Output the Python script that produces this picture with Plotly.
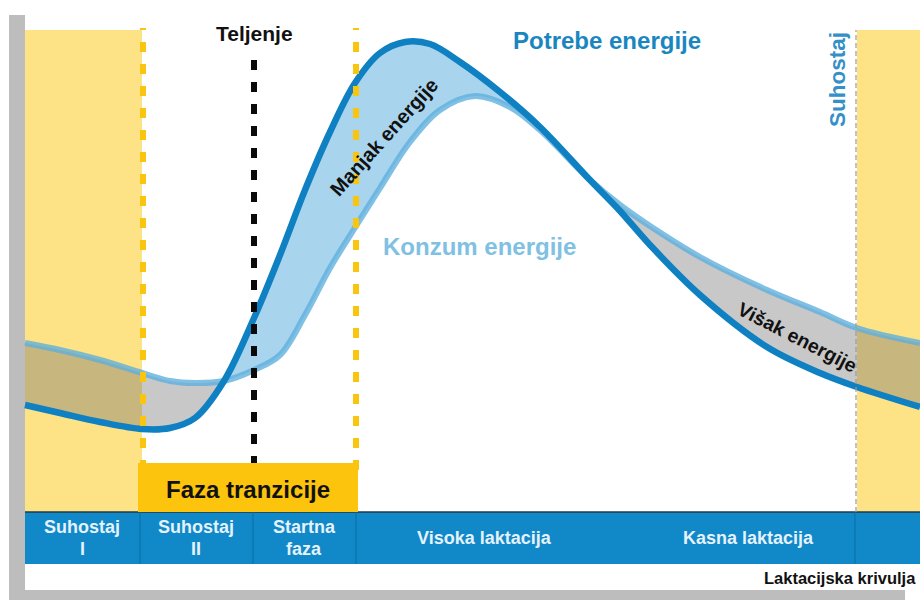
import plotly.graph_objects as go

# ---- data -----------------------------------------------------------------
# time axis (arbitrary units across the lactation cycle) and energy levels
time_demand = [25, 60, 100, 142, 170, 195, 224, 254, 280, 305, 330, 355, 380,
               405, 430, 460, 500, 540, 590, 620, 650, 700, 767, 820, 857, 920]
energy_demand = [195, 187, 178, 171, 172, 182, 219, 282, 345, 410, 468, 517, 547,
                 558, 556, 538, 508, 473, 420, 389, 355, 305, 253, 227, 213, 193]

time_intake = [25, 60, 100, 142, 170, 195, 224, 254, 280, 305, 330, 356, 380,
               410, 440, 475, 510, 540, 590, 620, 650, 700, 767, 820, 857, 920]
energy_intake = [257, 250, 240, 227, 219, 217, 219, 230, 245, 285, 332, 374, 412,
                 458, 490, 504, 493, 470, 420, 395, 374, 343, 310, 288, 272, 257]

# points where demand and intake curves meet
crossings = [224, 590]

# lactation phases shown in the bottom band
phase_edges = [25, 140, 253, 356, 855, 920]
phase_labels = [["Suhostaj", "I"], ["Suhostaj", "II"], ["Startna", "faza"],
                ["Visoka laktacija"], ["Kasna laktacija"]]
phase_label_x = [82, 196, 304, 484, 748]

dry_periods = [(25, 142), (857, 920)]
transition = (143, 356)
calving = 254

# ---- styling --------------------------------------------------------------
DARK = "#0f80c1"
LIGHT = "rgba(92,174,221,0.78)"
BAND_BLUE = "#a8d4ee"
BAND_GREY = "rgba(110,110,110,0.38)"
YELLOW = "#fde386"
GOLD = "#fcc40c"
BAR = "#1188c8"
FONT = "Liberation Sans, Arial, sans-serif"
H = 600

fig = go.Figure()


def seg(xs, ys, lo, hi):
    pts = [(x, y) for x, y in zip(xs, ys) if lo <= x <= hi]
    return [p[0] for p in pts], [p[1] for p in pts]


bounds = [(time_demand[0], crossings[0], BAND_GREY),
          (crossings[0], crossings[1], BAND_BLUE),
          (crossings[1], time_demand[-1], BAND_GREY)]
for lo, hi, col in bounds:
    xi, yi = seg(time_intake, energy_intake, lo, hi)
    xd, yd = seg(time_demand, energy_demand, lo, hi)
    fig.add_trace(go.Scatter(x=xi, y=yi, mode="lines", line=dict(width=0, shape="spline"),
                             hoverinfo="skip", showlegend=False))
    fig.add_trace(go.Scatter(x=xd, y=yd, mode="lines", line=dict(width=0, shape="spline"),
                             fill="tonexty", fillcolor=col, hoverinfo="skip", showlegend=False))

fig.add_trace(go.Scatter(x=time_intake, y=energy_intake, mode="lines",
                         line=dict(color=LIGHT, width=6, shape="spline"),
                         hoverinfo="skip", showlegend=False))
fig.add_trace(go.Scatter(x=time_demand, y=energy_demand, mode="lines",
                         line=dict(color=DARK, width=6.5, shape="spline"),
                         hoverinfo="skip", showlegend=False))

shapes = []
# frame border
shapes.append(dict(type="rect", xref="x", yref="y", x0=9, x1=25, y0=0, y1=H - 15,
                   fillcolor="#bdbdbd", line_width=0, layer="below"))
shapes.append(dict(type="rect", xref="x", yref="y", x0=9, x1=905, y0=0, y1=H - 590,
                   fillcolor="#bdbdbd", line_width=0, layer="below"))
# dry period backgrounds
for a, b in dry_periods:
    shapes.append(dict(type="rect", x0=a, x1=b, y0=H - 512, y1=H - 30,
                       fillcolor=YELLOW, line_width=0, layer="below"))
# bottom phase band
shapes.append(dict(type="rect", x0=phase_edges[0], x1=phase_edges[-1], y0=H - 564, y1=H - 512,
                   fillcolor=BAR, line=dict(width=0), layer="above"))
shapes.append(dict(type="line", x0=phase_edges[0], x1=phase_edges[-1], y0=H - 512, y1=H - 512,
                   line=dict(color="#203a48", width=1.5), layer="above"))
for e in phase_edges[1:-1]:
    shapes.append(dict(type="line", x0=e, x1=e, y0=H - 564, y1=H - 512,
                       line=dict(color="#0c6da3", width=1), layer="above"))
# end of lactation marker
shapes.append(dict(type="line", x0=856, x1=856, y0=H - 512, y1=H - 30,
                   line=dict(color="#9a9a9a", width=1.2, dash="5px,3px"), layer="above"))
# transition phase boundaries and calving
for xv in transition:
    shapes.append(dict(type="line", x0=xv, x1=xv, y0=H - 470, y1=H - 28,
                       line=dict(color="#f9c50e", width=6, dash="10px,12px"), layer="above"))
shapes.append(dict(type="line", x0=calving, x1=calving, y0=H - 466, y1=H - 48,
                   line=dict(color="#0a0a0a", width=6, dash="10px,12px"), layer="above"))
# transition phase box
shapes.append(dict(type="rect", x0=138, x1=358, y0=H - 512, y1=H - 463,
                   fillcolor=GOLD, line_width=0, layer="above"))

ann = []


def label(text, x, y, size, color="#111111", angle=0, xanchor="center"):
    ann.append(dict(text=f"<b>{text}</b>", x=x, y=H - y, xref="x", yref="y",
                    showarrow=False, textangle=angle, xanchor=xanchor, yanchor="middle",
                    font=dict(family=FONT, size=size, color=color)))


BAR_TXT = "#e4f2fb"
for lines, cx in zip(phase_labels, phase_label_x):
    if len(lines) == 2:
        label(lines[0], cx, 527, 18, BAR_TXT)
        label(lines[1], cx, 549, 18, BAR_TXT)
    else:
        label(lines[0], cx, 538, 18, BAR_TXT)

label("Faza tranzicije", 248, 489, 24)
label("Teljenje", 254, 33, 21)
label("Potrebe energije", 607, 40, 24, "#1a86c0")
label("Konzum energije", 479, 246, 24, "#7fc1e2")
label("Suhostaj", 837, 80, 22.5, "#3590c8", angle=-90)
label("Manjak energije", 384, 137, 20, angle=-48)
label("Višak energije", 797, 337, 19.5, angle=27)
label("Laktacijska krivulja", 918, 578, 16.5, xanchor="right")

fig.update_layout(
    width=920, height=600,
    margin=dict(l=0, r=0, t=0, b=0),
    paper_bgcolor="white", plot_bgcolor="white",
    xaxis=dict(range=[0, 920], visible=False, fixedrange=True),
    yaxis=dict(range=[0, H], visible=False, fixedrange=True),
    shapes=shapes, annotations=ann, showlegend=False,
)

fig.write_html("out.html")
